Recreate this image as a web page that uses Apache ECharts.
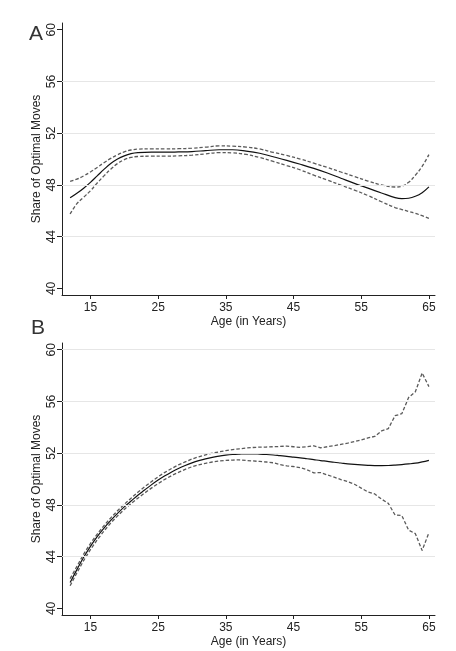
<!DOCTYPE html>
<html>
<head>
<meta charset="utf-8">
<script src="https://cdn.jsdelivr.net/npm/echarts@6/dist/echarts.min.js"></script>
<style>
html,body{margin:0;padding:0;background:#fff;}
#c{width:456px;height:651px;}
</style>
</head>
<body>
<div id="c"></div>
<script>
// ---- Data ----
const xTicks = [15, 25, 35, 45, 55, 65];
const yTicks = [40, 44, 48, 52, 56, 60];
const gridLinesA = [44, 48, 52, 56];
const gridLinesB = [44, 48, 52, 56, 60];

// Panel A
const agesA = [12,13,14,15,16,17,18,19,20,21,22,24,26,28,30,32,34,36,38,40,42,44,46,48,50,52,54,56,58,60,61,62,63,64,65];
const fitA = [47.0,47.35,47.75,48.2,48.7,49.2,49.65,50.0,50.25,50.42,50.5,50.53,50.53,50.55,50.58,50.65,50.72,50.72,50.62,50.45,50.18,49.9,49.6,49.28,48.92,48.52,48.12,47.75,47.38,47.02,46.94,46.97,47.12,47.4,47.85];
const upperA = [48.27,48.45,48.7,49.0,49.35,49.72,50.05,50.33,50.55,50.7,50.77,50.79,50.79,50.8,50.84,50.92,51.02,51.0,50.93,50.78,50.52,50.28,50.0,49.68,49.35,49.0,48.65,48.3,48.0,47.84,47.9,48.2,48.75,49.43,50.34];
const lowerA = [45.75,46.55,47.05,47.55,48.15,48.7,49.22,49.65,49.95,50.13,50.2,50.22,50.22,50.25,50.3,50.4,50.5,50.48,50.36,50.12,49.82,49.5,49.16,48.75,48.38,47.98,47.6,47.18,46.7,46.25,46.1,45.95,45.8,45.62,45.42];

// Panel B
const agesB = [12,13,14,15,16,17,18,19,20,21,22,23,24,25,26,27,28,29,30,31,32,33,34,35,36,37,38,39,40,41,42,43,44,45,46,47,48,49,50,51,52,53,54,55,56,57,58,59,60,61,62,63,64,65];
const fitB = [42.0,43.0,43.95,44.8,45.55,46.2,46.8,47.35,47.85,48.3,48.75,49.15,49.55,49.92,50.25,50.55,50.82,51.05,51.25,51.42,51.56,51.68,51.78,51.85,51.9,51.93,51.95,51.95,51.93,51.9,51.86,51.81,51.76,51.7,51.64,51.57,51.5,51.43,51.37,51.3,51.24,51.18,51.13,51.09,51.06,51.04,51.04,51.05,51.08,51.12,51.17,51.23,51.33,51.45];
const upperB = [42.3,43.25,44.2,45.02,45.75,46.4,47.0,47.55,48.05,48.52,48.98,49.4,49.8,50.18,50.52,50.82,51.1,51.33,51.55,51.72,51.87,52.0,52.1,52.2,52.28,52.34,52.4,52.44,52.47,52.48,52.5,52.52,52.55,52.5,52.45,52.5,52.57,52.42,52.5,52.58,52.68,52.78,52.9,53.02,53.18,53.3,53.72,53.9,54.9,55.05,56.3,56.75,58.2,57.15];
const lowerB = [41.75,42.75,43.7,44.55,45.3,45.98,46.6,47.15,47.65,48.1,48.52,48.92,49.3,49.65,49.98,50.27,50.52,50.75,50.95,51.1,51.22,51.32,51.4,51.44,51.47,51.48,51.44,51.4,51.36,51.32,51.26,51.12,51.02,50.97,50.88,50.72,50.48,50.5,50.32,50.15,49.96,49.8,49.6,49.3,49.0,48.85,48.45,48.12,47.22,47.18,46.05,45.78,44.48,45.85];

// ---- Chart ----
const FONT = "'Liberation Sans', Arial, Helvetica, sans-serif";
const TXT = '#222';
const pairs = (xs, ys) => xs.map((x, i) => [x, ys[i]]);

function xAxisDef(idx) {
  return {
    type: 'value', gridIndex: idx, min: 10.8, max: 65.9,
    name: 'Age (in Years)', nameLocation: 'middle', nameGap: 21, nameMoveOverlap: false,
    nameTextStyle: { fontFamily: FONT, fontSize: 12, color: TXT },
    axisLine: { show: true, onZero: false, lineStyle: { color: '#222', width: 1 } },
    axisTick: { show: true, length: 4, customValues: xTicks, lineStyle: { color: '#222' } },
    axisLabel: { customValues: xTicks, margin: 7, fontFamily: FONT, fontSize: 12, color: TXT },
    splitLine: { show: false }
  };
}
function yAxisDef(idx) {
  return {
    type: 'value', gridIndex: idx, min: 39.49, max: 60.52,
    name: 'Share of Optimal Moves', nameLocation: 'middle', nameGap: 19, nameRotate: 90, nameMoveOverlap: false,
    nameTextStyle: { fontFamily: FONT, fontSize: 12, color: TXT },
    axisLine: { show: true, onZero: false, lineStyle: { color: '#222', width: 1 } },
    axisTick: { show: true, length: 5, customValues: yTicks, lineStyle: { color: '#222' } },
    axisLabel: { customValues: yTicks, rotate: 90, margin: 4, fontFamily: FONT, fontSize: 12, color: TXT },
    splitLine: { show: false }
  };
}
function gridSeries(idx, vals) {
  return {
    type: 'line', xAxisIndex: idx, yAxisIndex: idx, z: 1,
    data: [], silent: true, symbol: 'none',
    markLine: {
      silent: true, symbol: 'none', animation: false,
      label: { show: false },
      lineStyle: { color: '#e6e6e6', width: 1, type: 'solid' },
      data: vals.map(v => ({ yAxis: v }))
    }
  };
}
function lineSeries(idx, xs, ys, dashed, smooth) {
  return {
    type: 'line', xAxisIndex: idx, yAxisIndex: idx, z: dashed ? 3 : 4,
    data: pairs(xs, ys), symbol: 'none', smooth: smooth, animation: false,
    lineStyle: dashed
      ? { color: '#5a5a5a', width: 1.3, type: [3.5, 2] }
      : { color: '#111', width: 1.2, type: 'solid' }
  };
}

const chart = echarts.init(document.getElementById('c'), null, { renderer: 'canvas' });
chart.setOption({
  backgroundColor: '#fff',
  animation: false,
  title: [
    { text: 'A', left: 24, top: 19, textStyle: { fontFamily: FONT, fontSize: 21, fontWeight: 'normal', color: '#333' } },
    { text: 'B', left: 26, top: 313, textStyle: { fontFamily: FONT, fontSize: 21, fontWeight: 'normal', color: '#333' } }
  ],
  grid: [
    { left: 62, top: 23, width: 373, height: 272, containLabel: false },
    { left: 62, top: 343, width: 373, height: 272, containLabel: false }
  ],
  xAxis: [xAxisDef(0), xAxisDef(1)],
  yAxis: [yAxisDef(0), yAxisDef(1)],
  series: [
    gridSeries(0, gridLinesA),
    gridSeries(1, gridLinesB),
    lineSeries(0, agesA, upperA, true, 0.4),
    lineSeries(0, agesA, lowerA, true, 0.4),
    lineSeries(0, agesA, fitA, false, 0.4),
    lineSeries(1, agesB, upperB, true, false),
    lineSeries(1, agesB, lowerB, true, false),
    lineSeries(1, agesB, fitB, false, 0.4)
  ]
});
</script>
</body>
</html>
